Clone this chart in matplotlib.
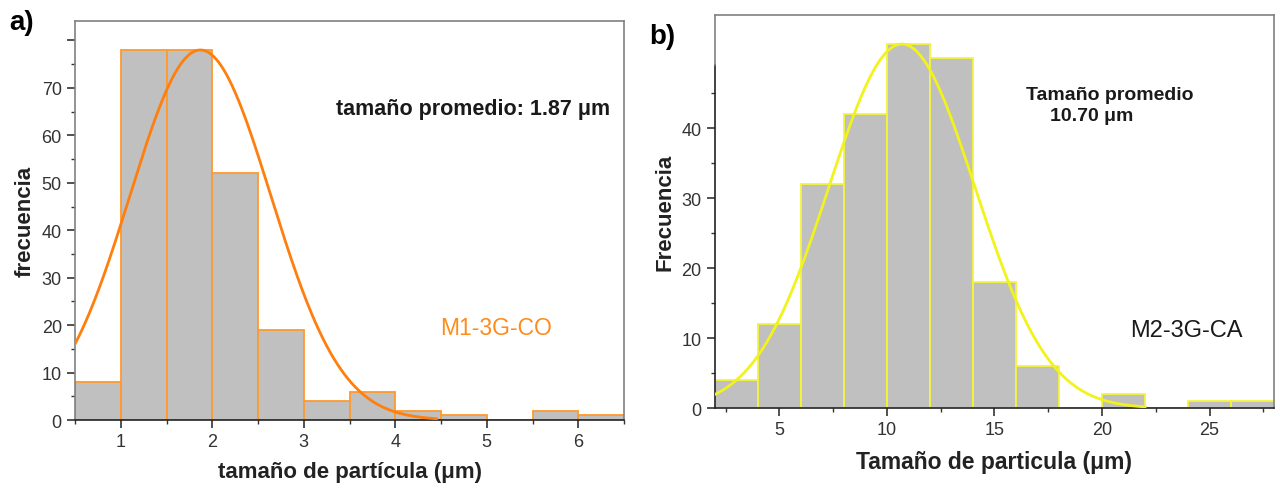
import numpy as np
import matplotlib.pyplot as plt
from matplotlib.ticker import MultipleLocator

plt.rcParams['font.family'] = ['Liberation Sans', 'DejaVu Sans']

# panel a data (bin edges, counts, gaussian fit)
edges_a = [0.5, 1.0, 1.5, 2.0, 2.5, 3.0, 3.5, 4.0, 4.5, 5.0, 5.5, 6.0, 6.5]
counts_a = [8, 78, 78, 52, 19, 4, 6, 2, 1, 0, 2, 1]
mean_a, sigma_a, amp_a = 1.87, 0.77, 78
fit_range_a = (0.5, 4.45)

# panel b data
edges_b = [2, 4, 6, 8, 10, 12, 14, 16, 18, 20, 22, 24, 26, 28]
counts_b = [4, 12, 32, 42, 52, 50, 18, 6, 0, 2, 0, 1, 1]
mean_b, sigma_b, amp_b = 10.7, 3.4, 52
fit_range_b = (2.0, 22.0)

fig = plt.figure(figsize=(12.8, 4.89), dpi=100)
axa = fig.add_axes([0.0586, 0.139, 0.4289, 0.815])
axb = fig.add_axes([0.5584, 0.163, 0.4370, 0.805])


def draw(ax, edges, counts, mu, sig, amp, rng, ecol, lcol):
    e = np.array(edges)
    ax.bar(e[:-1], counts, width=np.diff(e), align='edge', color='#c0c0c0',
           edgecolor=ecol, linewidth=1.3, zorder=2)
    x = np.linspace(rng[0], rng[1], 300)
    ax.plot(x, amp * np.exp(-(x - mu) ** 2 / (2 * sig ** 2)), color=lcol, lw=2, zorder=3)
    for s in ax.spines.values():
        s.set_color('#808080')
        s.set_linewidth(1.2)
    ax.spines['bottom'].set_color('#222222')
    ax.tick_params(which='both', direction='out', color='#333333', labelcolor='#333333',
                   labelsize=13)
    ax.tick_params(which='major', length=6, width=1.2)
    ax.tick_params(which='minor', length=3, width=1.0)


draw(axa, edges_a, counts_a, mean_a, sigma_a, amp_a, fit_range_a, '#ff9a2e', '#ff7f0e')
axa.set_xlim(0.5, 6.5)
axa.set_ylim(0, 84)
axa.xaxis.set_major_locator(MultipleLocator(1))
axa.xaxis.set_minor_locator(MultipleLocator(0.5))
axa.yaxis.set_major_locator(MultipleLocator(10))
axa.yaxis.set_minor_locator(MultipleLocator(5))
axa.set_yticks([0, 10, 20, 30, 40, 50, 60, 70, 80])
axa.set_yticklabels(['0', '10', '20', '30', '40', '50', '60', '70', ''])
axa.set_xlabel('tamaño de partícula (μm)', fontsize=16, fontweight='bold', color='#222222', labelpad=8)
axa.set_ylabel('frecuencia', fontsize=16, fontweight='bold', color='#222222', labelpad=4)
axa.text(0.974, 0.781, 'tamaño promedio: 1.87 μm', transform=axa.transAxes, ha='right',
         va='center', fontsize=15.5, fontweight='bold', color='#1a1a1a')
axa.text(0.665, 0.233, 'M1-3G-CO', transform=axa.transAxes, ha='left', va='center',
         fontsize=16.5, color='#ff8c1a')

draw(axb, edges_b, counts_b, mean_b, sigma_b, amp_b, fit_range_b, '#f5f53a', '#f2f21c')
axb.set_xlim(2, 28)
axb.set_ylim(0, 56.2)
axb.xaxis.set_major_locator(MultipleLocator(5))
axb.xaxis.set_minor_locator(MultipleLocator(2.5))
axb.set_yticks([0, 10, 20, 30, 40])
axb.set_yticks([5, 15, 25, 35, 45], minor=True)
axb.spines['left'].set_bounds(0, 49)
axb.spines['left'].set_color('#222222')
axb.plot([2, 2], [49, 56.2], color='#808080', lw=1.2, clip_on=False, zorder=4)
axb.set_xlabel('Tamaño de particula (μm)', fontsize=16.5, fontweight='bold', color='#222222', labelpad=8)
axb.set_ylabel('Frecuencia', fontsize=16, fontweight='bold', color='#222222', labelpad=4)
axb.text(0.557, 0.796, 'Tamaño promedio', transform=axb.transAxes, ha='left', va='center',
         fontsize=14, fontweight='bold', color='#1a1a1a')
axb.text(0.60, 0.743, '10.70 μm', transform=axb.transAxes, ha='left', va='center',
         fontsize=14, fontweight='bold', color='#1a1a1a')
axb.text(0.743, 0.2, 'M2-3G-CA', transform=axb.transAxes, ha='left', va='center',
         fontsize=17, color='#1a1a1a')

fig.text(0.007, 0.952, 'a)', fontsize=20, fontweight='bold', va='center', ha='left')
fig.text(0.507, 0.925, 'b)', fontsize=20, fontweight='bold', va='center', ha='left')

fig.savefig('out.png', dpi=100)
